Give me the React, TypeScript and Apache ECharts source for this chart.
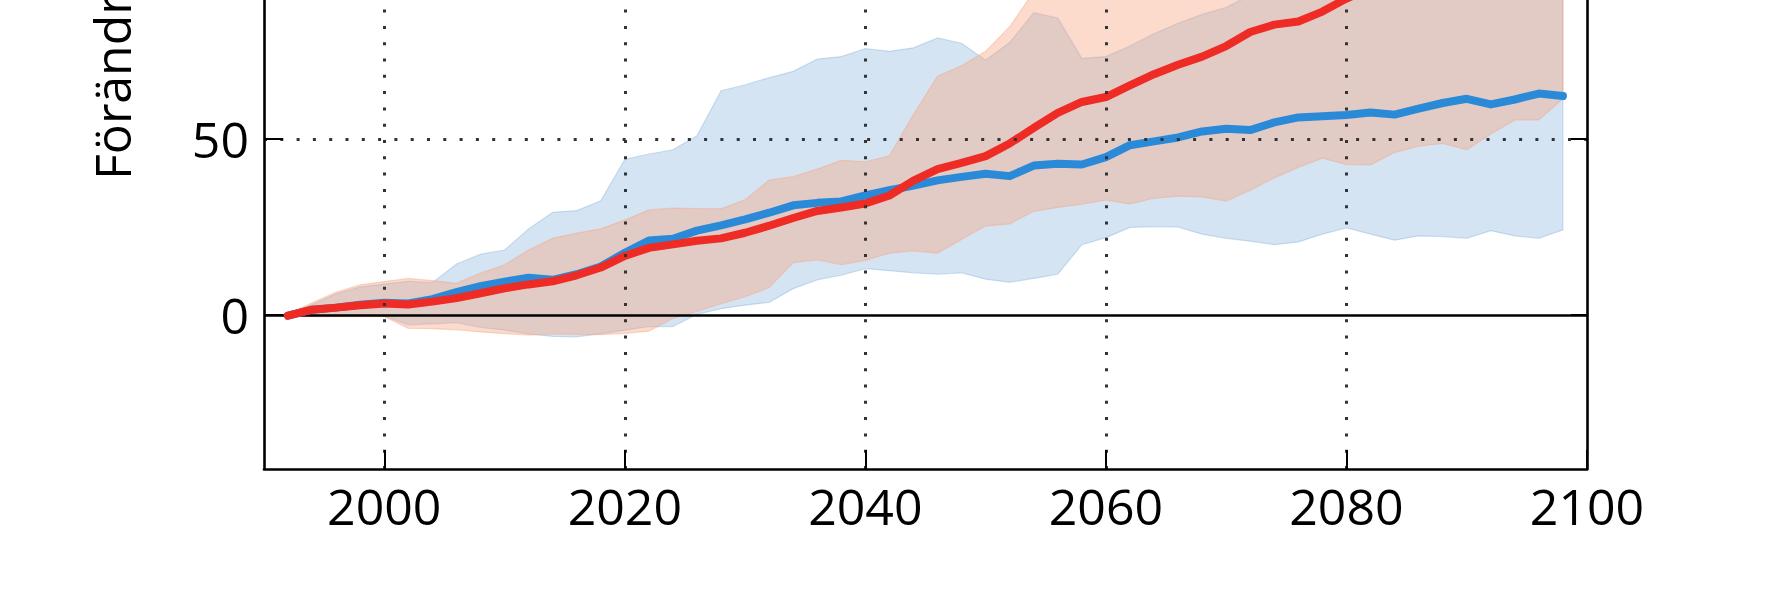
import React, { useEffect, useRef } from "react";
import * as echarts from "echarts";

const years = [
  1992, 1994, 1996, 1998, 2000, 2002, 2004, 2006, 2008, 2010, 2012, 2014, 2016, 2018,
  2020, 2022, 2024, 2026, 2028, 2030, 2032, 2034, 2036, 2038, 2040, 2042, 2044, 2046,
  2048, 2050, 2052, 2054, 2056, 2058, 2060, 2062, 2064, 2066, 2068, 2070, 2072, 2074,
  2076, 2078, 2080, 2082, 2084, 2086, 2088, 2090, 2092, 2094, 2096, 2098,
];

const redMean = [
  -0.2, 1.5, 2.1, 2.8, 3.3, 3.0, 3.8, 4.8, 6.2, 7.6, 8.7, 9.6, 11.3, 13.5,
  16.8, 19.1, 20.1, 21.1, 21.8, 23.4, 25.4, 27.6, 29.6, 30.6, 31.7, 34.0, 38.2, 41.5,
  43.3, 45.2, 48.8, 53.2, 57.5, 60.6, 62.0, 65.3, 68.5, 71.2, 73.5, 76.5, 80.5, 82.6,
  83.5, 86.3, 90.0, 93, 96, 99, 101, 104, 106, 108, 110, 112,
];

const blueMean = [
  -0.2, 1.5, 2.1, 2.9, 3.5, 3.3, 4.5, 6.5, 8.2, 9.5, 10.6, 10.0, 11.6, 13.8,
  17.7, 21.2, 21.7, 24.0, 25.5, 27.2, 29.1, 31.2, 31.9, 32.3, 34.0, 35.5, 36.8, 38.3,
  39.3, 40.2, 39.5, 42.5, 43.0, 42.8, 44.9, 48.3, 49.4, 50.5, 52.2, 53.0, 52.6, 54.8,
  56.2, 56.5, 56.9, 57.6, 57.0, 58.7, 60.3, 61.5, 59.9, 61.3, 63.0, 62.3,
];

const redUpper = [
  0.3, 3.5, 6.5, 8.6, 9.5, 10.4, 9.8, 9.0, 11.9, 14.3, 18.5, 21.8, 23.3, 24.5,
  27.0, 29.9, 30.4, 30.3, 30.2, 32.8, 38.4, 39.4, 41.5, 44.0, 43.6, 45.3, 57.0, 68.0,
  70.9, 75.0, 82.0, 92, 97, 96, 98, 100, 103, 106, 108, 110, 112, 114,
  116, 118, 120, 121, 122, 123, 124, 125, 126, 127, 128, 128,
];

const redLower = [
  -0.3, -0.5, -0.5, -0.5, -0.5, -3.8, -3.9, -4.2, -4.8, -5.3, -5.7, -5.4, -5.5, -5.6,
  -5.2, -4.6, -1.0, 1.0, 3.2, 5.2, 7.8, 14.9, 15.7, 14.3, 15.5, 17.6, 18.2, 17.6,
  21.5, 25.3, 25.9, 29.5, 30.6, 31.5, 32.7, 31.6, 33.2, 33.8, 33.6, 32.4, 35.5, 39.0,
  42.0, 44.6, 42.8, 42.7, 46.2, 48.0, 48.8, 47.0, 51.5, 55.5, 55.5, 61.5,
];

const blueUpper = [
  0.2, 3.0, 6.0, 8.0, 8.8, 9.6, 9.2, 14.5, 17.3, 18.5, 24.5, 29.2, 29.7, 32.5,
  44.3, 45.8, 47.0, 51.0, 63.8, 65.5, 67.5, 69.3, 72.8, 73.5, 75.8, 75.0, 76.0, 78.8,
  77.3, 72.5, 77.5, 86.0, 84.5, 73.0, 73.5, 76.5, 80.0, 83.0, 85.5, 87.5, 91, 93,
  94, 95, 96, 96, 97, 97, 98, 98, 99, 99, 100, 100,
];

const blueLower = [
  -0.3, -0.4, -0.3, 0.0, -0.3, -2.8, -2.5, -2.2, -3.5, -4.3, -5.4, -6.1, -6.2, -5.3,
  -4.3, -3.3, -3.3, 0.2, 1.8, 2.8, 3.6, 7.5, 10.0, 11.3, 13.2, 12.6, 12.0, 11.6,
  12.0, 10.2, 9.3, 10.4, 11.6, 20.0, 22.0, 24.9, 25.1, 25.0, 23.0, 21.8, 21.0, 20.0,
  20.8, 23.0, 24.8, 23.0, 21.3, 22.5, 22.3, 21.8, 24.0, 22.5, 21.8, 24.2,
];

const xTickValues = [2000, 2020, 2040, 2060, 2080, 2100];
const xGridValues = [2000, 2020, 2040, 2060, 2080];
const yTickValues = [0, 50];
const yGridValues = [50];
const yAxisTitle = "Förändring (%)";

const FONT = '"Open Sans", "Noto Sans", "DejaVu Sans", sans-serif';

function pairs(vals: number[]) {
  return years.map((y, i) => [y, vals[i]]);
}

function bandSeries(name: string, lo: number[], hi: number[], fill: string, z: number) {
  return {
    name,
    type: "custom",
    z,
    silent: true,
    data: years.map((y, i) => [y, lo[i], hi[i]]),
    encode: { x: 0, y: [1, 2] },
    renderItem: (params: any, api: any) => {
      if (params.dataIndex !== 0) return null;
      const top = years.map((y, i) => api.coord([y, hi[i]]));
      const bot = years.map((y, i) => api.coord([y, lo[i]])).reverse();
      const cs = params.coordSys;
      return {
        type: "polygon",
        shape: { points: top.concat(bot) },
        style: { fill, stroke: fill, lineWidth: 1.2 },
        clipPath: { type: "rect", shape: { x: cs.x, y: cs.y, width: cs.width, height: cs.height } },
      };
    },
  };
}

export default function App() {
  const ref = useRef<HTMLDivElement>(null);
  useEffect(() => {
    if (!ref.current) return;
    const chart = echarts.init(ref.current, null, { renderer: "svg" });
    const yMin = -43.8;
    const yMax = 89.6;
    const axisLine = { show: true, onZero: false, lineStyle: { color: "#000", width: 2.6 } };
    const dotted = { color: "#333", width: 3, type: [3, 13.3] as any, cap: "butt" };
    const option: any = {
      animation: false,
      backgroundColor: "#fff",
      grid: { left: 264, right: 180, top: 0, bottom: 121, containLabel: false },
      xAxis: {
        type: "value",
        min: 1990,
        max: 2100,
        z: 10,
        axisLine,
        axisTick: {
          show: true,
          inside: true,
          length: 19,
          customValues: xTickValues,
          lineStyle: { color: "#000", width: 2 },
        },
        axisLabel: {
          show: true,
          customValues: xTickValues,
          formatter: (v: number) => String(v),
          fontSize: 50,
          fontFamily: FONT,
          color: "#000",
          margin: 12,
        },
        splitLine: { show: false },
      },
      yAxis: [
        {
          type: "value",
          min: yMin,
          max: yMax,
          position: "left",
          z: 10,
          axisLine,
          axisTick: {
            show: true,
            inside: true,
            length: 19,
            customValues: yTickValues,
            lineStyle: { color: "#000", width: 2 },
          },
          axisLabel: {
            show: true,
            customValues: yTickValues,
            formatter: (v: number) => String(v),
            fontSize: 50,
            fontFamily: FONT,
            color: "#000",
            margin: 15,
          },
          splitLine: { show: false },
        },
        {
          type: "value",
          min: yMin,
          max: yMax,
          position: "right",
          z: 10,
          axisLine,
          axisTick: {
            show: true,
            inside: true,
            length: 16,
            customValues: yTickValues,
            lineStyle: { color: "#000", width: 2 },
          },
          axisLabel: { show: false },
          splitLine: { show: false },
        },
      ],
      graphic: [
        {
          type: "text",
          x: 112,
          y: 180,
          rotation: Math.PI / 2,
          silent: true,
          style: {
            text: yAxisTitle,
            fontSize: 50,
            fontFamily: FONT,
            fill: "#000",
            align: "left",
            verticalAlign: "middle",
          },
        },
      ],
      series: [
        bandSeries("blueBand", blueLower, blueUpper, "rgba(40,120,195,0.2)", 2),
        bandSeries("redBand", redLower, redUpper, "rgba(247,162,127,0.4)", 3),
        {
          name: "zeroLine",
          type: "line",
          data: [],
          silent: true,
          z: 4,
          markLine: {
            silent: true,
            z: 4,
            symbol: ["none", "none"],
            label: { show: false },
            lineStyle: { color: "#000", width: 2.6, type: "solid" },
            data: [{ yAxis: 0 }],
          },
        },
        {
          name: "blueMean",
          type: "line",
          data: pairs(blueMean),
          symbol: "none",
          lineStyle: { color: "#2a8ad8", width: 8, cap: "round", join: "round" },
          silent: true,
          z: 6,
        },
        {
          name: "redMean",
          type: "line",
          data: pairs(redMean),
          symbol: "none",
          lineStyle: { color: "#ee2b25", width: 8, cap: "round", join: "round" },
          silent: true,
          z: 7,
          markLine: {
            silent: true,
            z: 8,
            symbol: ["none", "none"],
            label: { show: false },
            lineStyle: dotted,
            data: [
              ...xGridValues.map((v) => ({ xAxis: v })),
              ...yGridValues.map((v) => ({ yAxis: v })),
            ],
          },
        },
      ],
    };
    chart.setOption(option);
    return () => chart.dispose();
  }, []);
  return (
    <div
      ref={ref}
      style={{ position: "fixed", left: 0, top: 0, width: 1767, height: 590, background: "#fff" }}
    />
  );
}
